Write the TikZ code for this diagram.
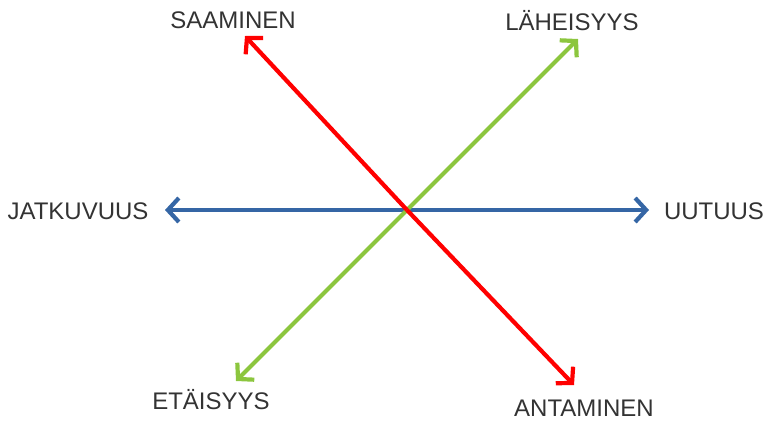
\documentclass[tikz,border=0pt]{standalone}
\usepackage{fontspec}
\setmainfont{Liberation Sans}
\usetikzlibrary{arrows.meta}
\definecolor{arrred}{HTML}{FF0000}
\definecolor{arrgreen}{HTML}{8CC63E}
\definecolor{arrblue}{HTML}{3566A5}
\definecolor{txtgray}{HTML}{333333}
\begin{document}
\begin{tikzpicture}[x=1pt,y=-1pt,
  lbl/.style={text=txtgray,font=\fontsize{24}{27}\selectfont,inner sep=0pt},
  axis/.style={line width=4.2pt,-{Straight Barb[length=11pt,width=24pt,line width=4.2pt]}}]
\useasboundingbox (0,0) rectangle (766,421);
\coordinate (bl) at (165,210);
\coordinate (br) at (649,210);
\coordinate (rt) at (245,36);
\coordinate (rb) at (574,385);
\coordinate (gt) at (578,39);
\coordinate (gb) at (236,381);
\coordinate (c) at (407,210);
\draw[axis,arrblue] (c) -- (bl);
\draw[axis,arrblue] (c) -- (br);
\draw[axis,arrgreen] (c) -- (gt);
\draw[axis,arrgreen] (c) -- (gb);
\draw[axis,arrred] (c) -- (rt);
\draw[axis,arrred] (c) -- (rb);
\node[lbl] (saa) at (233,20) {SAAMINEN};
\node[lbl] (lah) at (572,21) {LÄHEISYYS};
\node[lbl] (jat) at (78,211) {JATKUVUUS};
\node[lbl] (uut) at (714,211) {UUTUUS};
\node[lbl] (eta) at (211,400) {ETÄISYYS};
\node[lbl] (ant) at (584,408) {ANTAMINEN};
\end{tikzpicture}
\end{document}
